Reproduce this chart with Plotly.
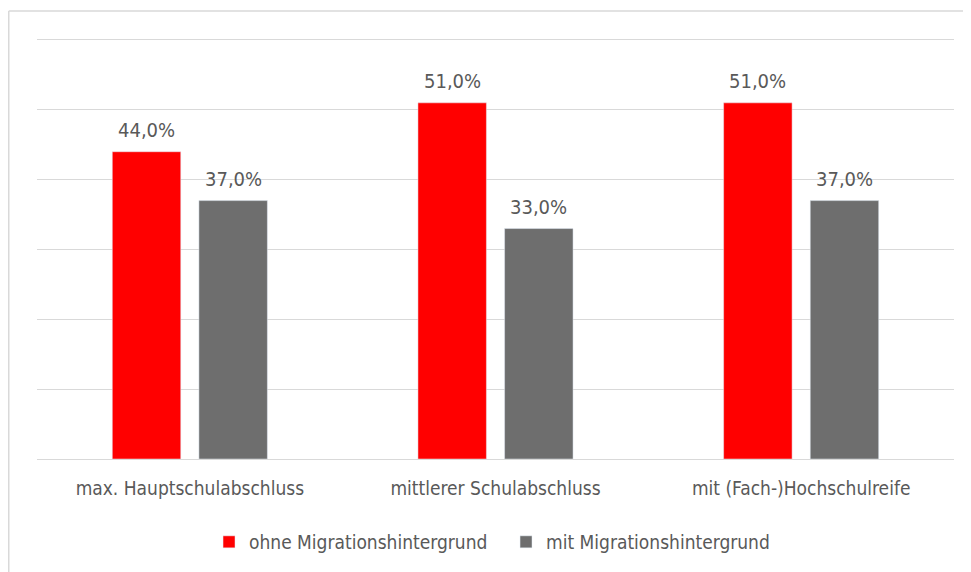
import plotly.graph_objects as go

categories = ["max. Hauptschulabschluss", "mittlerer Schulabschluss", "mit (Fach-)Hochschulreife"]
series_names = ["ohne Migrationshintergrund", "mit Migrationshintergrund"]
ohne = [44.0, 51.0, 51.0]
mit = [37.0, 33.0, 37.0]
colors = ["#FF0000", "#6E6E6E"]

FONT = "DejaVu Sans Condensed, Open Sans, sans-serif"
TXT = "#595959"

BAR_W = 0.224
CENTER_OFF = 0.1417
offsets = [-CENTER_OFF, CENTER_OFF]


def fmt(v):
    return f"{v:.1f}%".replace(".", ",")


fig = go.Figure()
for name, vals, col, off in zip(series_names, [ohne, mit], colors, offsets):
    fig.add_trace(go.Bar(
        x=categories, y=vals, name=name, marker_color=col,
        width=BAR_W, offset=off - BAR_W / 2,
    ))
    for i, v in enumerate(vals):
        fig.add_annotation(
            x=i + off, y=v, xref="x", yref="y", text=fmt(v), showarrow=False,
            yanchor="bottom", yshift=8,
            font=dict(size=20, color=TXT, family=FONT),
        )

fig.update_layout(
    width=963, height=564,
    margin=dict(l=29, r=17, t=25, b=112),
    paper_bgcolor="white", plot_bgcolor="white",
    barmode="overlay",
    font=dict(family=FONT, color=TXT, size=19),
    showlegend=True,
    legend=dict(orientation="h", x=0.1876, xanchor="left", y=-0.192, yanchor="middle",
                font=dict(size=19, color=TXT, family=FONT), entrywidth=252,
                bgcolor="rgba(0,0,0,0)"),
    xaxis=dict(showgrid=False, showline=True, linecolor="#D9D9D9", linewidth=1,
               ticks="outside", ticklen=12, tickcolor="rgba(0,0,0,0)",
               tickfont=dict(size=19, color=TXT, family=FONT), automargin=False,
               range=[-0.5, 2.5]),
    yaxis=dict(range=[0, 61], dtick=10, showticklabels=False, showgrid=True,
               gridcolor="#D9D9D9", gridwidth=1, zeroline=False, automargin=False),
)

# outer chart border (left and top edges visible)
fig.add_shape(type="line", xref="paper", yref="paper", x0=-0.0308, x1=-0.0308, y0=-0.4, y1=1.0515,
              line=dict(color="#D9D9D9", width=1.5))
fig.add_shape(type="line", xref="paper", yref="paper", x0=-0.0308, x1=1.1, y0=1.0515, y1=1.0515,
              line=dict(color="#D9D9D9", width=1.5))

fig.write_html("out.html")
